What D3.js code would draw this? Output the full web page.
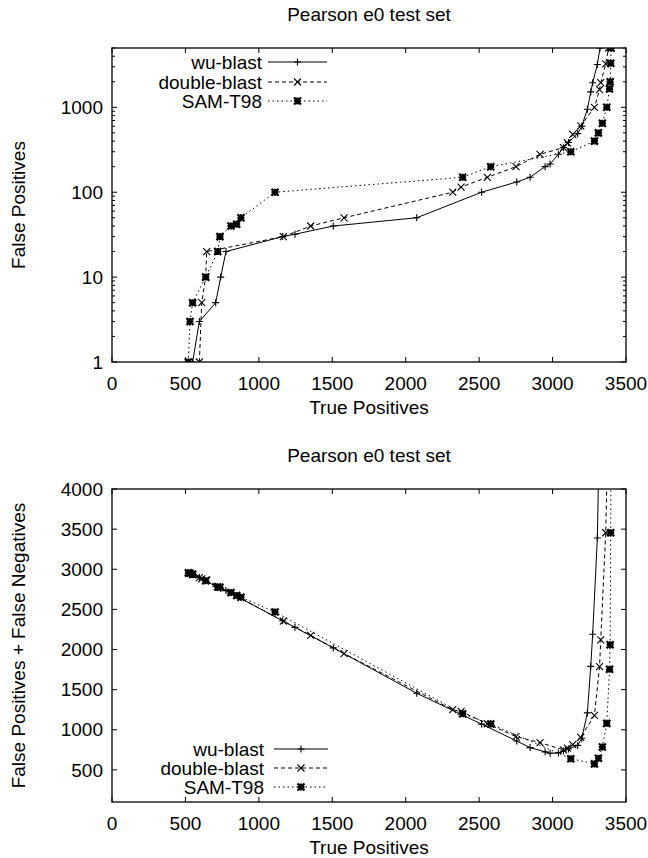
<!DOCTYPE html>
<html>
<head>
<meta charset="utf-8">
<script src="https://cdn.jsdelivr.net/npm/d3@7/dist/d3.min.js"></script>
<style>
  body { margin: 0; background: #fff; }
  text { font-family: "Liberation Sans", Arial, sans-serif; font-size: 19px; fill: #000; }
</style>
</head>
<body>
<div id="chart"></div>
<script>
/* DATA */
var seriesNames = ["wu-blast", "double-blast", "SAM-T98"];
var chartTitle = "Pearson e0 test set";

// wu-blast
var wuTP  = [549, 595, 706, 740, 776, 1162, 1246, 1507, 2075, 2517, 2756, 2847, 2949, 2983, 3040, 3074, 3108, 3171, 3199, 3237, 3260, 3273, 3305, 3323];
var wuFP  = [1, 3, 5, 10, 20, 30, 32, 40, 50, 100, 132, 150, 200, 215, 280, 335, 385, 490, 600, 950, 1520, 1950, 3200, 5000];
var wuErr = [2940, 2896, 2788, 2760, 2734, 2358, 2276, 2020, 1455, 1070, 860, 778, 725, 708, 712, 736, 760, 805, 895, 1210, 1790, 2190, 3390, 5170];

// double-blast
var dbTP  = [595, 611, 638, 645, 1167, 1353, 1580, 2320, 2377, 2556, 2751, 2915, 3074, 3101, 3137, 3192, 3285, 3320, 3328, 3362, 3382];
var dbFP  = [1, 5, 10, 20, 30, 40, 50, 100, 115, 150, 200, 280, 335, 380, 480, 605, 1000, 1620, 1950, 3250, 5000];
var dbErr = [2896, 2880, 2862, 2866, 2353, 2177, 1950, 1250, 1228, 1075, 915, 840, 750, 770, 815, 905, 1180, 1786, 2120, 3455, 5110];

// SAM-T98
var samTP  = [520, 531, 549, 638, 720, 735, 810, 849, 878, 1110, 2388, 2579, 3124, 3285, 3312, 3339, 3369, 3388, 3392, 3396, 3398];
var samFP  = [1, 3, 5, 10, 20, 30, 40, 42, 50, 100, 150, 200, 300, 400, 500, 650, 1000, 1650, 2000, 3300, 5000];
var samErr = [2955, 2950, 2936, 2856, 2780, 2775, 2710, 2673, 2652, 2468, 1200, 1072, 640, 575, 645, 785, 1080, 1753, 2060, 3455, 5090];

var xTicks = [0, 500, 1000, 1500, 2000, 2500, 3000, 3500];
var yTicksTop = [1, 10, 100, 1000];
var yTicksBottom = [500, 1000, 1500, 2000, 2500, 3000, 3500, 4000];

/* STYLES PER SERIES */
var dashes = [null, "4,3", "1.5,3"];
var markers = ["plus", "cross", "star"];

var svg = d3.select("#chart").append("svg")
  .attr("width", 648)
  .attr("height", 858);

// marker shapes, centred on 0,0
function markerPath(kind, s) {
  var p = "M" + (-s) + ",0H" + s + "M0," + (-s) + "V" + s;
  var x = "M" + (-s) + "," + (-s) + "L" + s + "," + s + "M" + (-s) + "," + s + "L" + s + "," + (-s);
  if (kind == "plus") return p;
  if (kind == "cross") return x;
  return p + x;
}

function drawMarker(g, kind, cx, cy) {
  g.append("path")
    .attr("transform", "translate(" + cx + "," + cy + ")")
    .attr("d", markerPath(kind, kind == "plus" ? 3.5 : 3.5))
    .attr("fill", "none")
    .attr("stroke", "#000")
    .attr("stroke-width", kind == "star" ? 2.2 : 1.1);
}

function drawPanel(opt) {
  var x = opt.x, y = opt.y;
  var left = x.range()[0], right = x.range()[1];
  var bottom = y.range()[0], top = y.range()[1];

  var g = svg.append("g");

  g.append("clipPath").attr("id", opt.id)
    .append("rect")
    .attr("x", left).attr("y", top)
    .attr("width", right - left).attr("height", bottom - top);

  // frame
  g.append("rect")
    .attr("x", left).attr("y", top)
    .attr("width", right - left).attr("height", bottom - top)
    .attr("fill", "none").attr("stroke", "#000").attr("stroke-width", 1.3);

  // x ticks (bottom + mirrored top)
  xTicks.forEach(function(t) {
    var px = x(t);
    g.append("line").attr("x1", px).attr("x2", px).attr("y1", bottom).attr("y2", bottom - 5).attr("stroke", "#000");
    g.append("line").attr("x1", px).attr("x2", px).attr("y1", top).attr("y2", top + 5).attr("stroke", "#000");
    g.append("text").attr("x", px).attr("y", bottom + 28)
      .attr("text-anchor", "middle").text(t);
  });

  // y ticks
  opt.yTicks.forEach(function(t) {
    var py = y(t);
    g.append("line").attr("x1", left).attr("x2", left + 5).attr("y1", py).attr("y2", py).attr("stroke", "#000");
    g.append("line").attr("x1", right).attr("x2", right - 5).attr("y1", py).attr("y2", py).attr("stroke", "#000");
    g.append("text").attr("x", left - 9).attr("y", py).attr("dy", "0.35em")
      .attr("text-anchor", "end").text(t);
  });
  (opt.minor || []).forEach(function(t) {
    var py = y(t);
    g.append("line").attr("x1", left).attr("x2", left + 3).attr("y1", py).attr("y2", py).attr("stroke", "#000");
    g.append("line").attr("x1", right).attr("x2", right - 3).attr("y1", py).attr("y2", py).attr("stroke", "#000");
  });

  // titles
  g.append("text").attr("x", (left + right) / 2).attr("y", top - 27)
    .attr("text-anchor", "middle").text(chartTitle);
  g.append("text").attr("x", (left + right) / 2).attr("y", bottom + 52)
    .attr("text-anchor", "middle").text("True Positives");
  g.append("text")
    .attr("transform", "translate(25," + ((top + bottom) / 2) + ") rotate(-90)")
    .attr("text-anchor", "middle").text(opt.yLabel);

  // series
  var plot = g.append("g").attr("clip-path", "url(#" + opt.id + ")");
  opt.series.forEach(function(s, i) {
    var pts = s.tp.map(function(v, j) { return [v, s.val[j]]; });
    var line = d3.line().x(function(d) { return x(d[0]); }).y(function(d) { return y(d[1]); });
    plot.append("path")
      .attr("d", line(pts))
      .attr("fill", "none")
      .attr("stroke", "#000")
      .attr("stroke-width", 1)
      .attr("stroke-dasharray", dashes[i]);
    pts.forEach(function(d) {
      drawMarker(plot, markers[i], x(d[0]), y(d[1]));
    });
  });

  // legend
  var lg = opt.legend;
  seriesNames.forEach(function(name, i) {
    var ly = lg.y[i];
    g.append("text").attr("x", lg.textX).attr("y", ly).attr("dy", "0.35em")
      .attr("text-anchor", "end").text(name);
    g.append("line").attr("x1", lg.x1).attr("x2", lg.x2).attr("y1", ly).attr("y2", ly)
      .attr("stroke", "#000").attr("stroke-dasharray", dashes[i]);
    drawMarker(g, markers[i], (lg.x1 + lg.x2) / 2, ly);
  });
}

/* TOP PANEL */
var x1 = d3.scaleLinear().domain([0, 3500]).range([112, 626]);
var y1 = d3.scaleLog().domain([1, 5000]).range([362, 48]);
var minorLog = [];
[1, 10, 100, 1000].forEach(function(d) {
  for (var k = 2; k <= 9; k++) { if (k * d <= 5000) minorLog.push(k * d); }
});

drawPanel({
  id: "clipTop", x: x1, y: y1,
  yTicks: yTicksTop, minor: minorLog,
  yLabel: "False Positives",
  series: [
    { tp: wuTP, val: wuFP },
    { tp: dbTP, val: dbFP },
    { tp: samTP, val: samFP }
  ],
  legend: { textX: 262, x1: 268, x2: 327, y: [62, 82, 101] }
});

/* BOTTOM PANEL */
var x2 = d3.scaleLinear().domain([0, 3500]).range([112, 626]);
var y2 = d3.scaleLinear().domain([100, 4000]).range([802, 489]);

drawPanel({
  id: "clipBottom", x: x2, y: y2,
  yTicks: yTicksBottom,
  yLabel: "False Positives + False Negatives",
  series: [
    { tp: wuTP, val: wuErr },
    { tp: dbTP, val: dbErr },
    { tp: samTP, val: samErr }
  ],
  legend: { textX: 264, x1: 274, x2: 328, y: [749, 768, 787] }
});
</script>
</body>
</html>
